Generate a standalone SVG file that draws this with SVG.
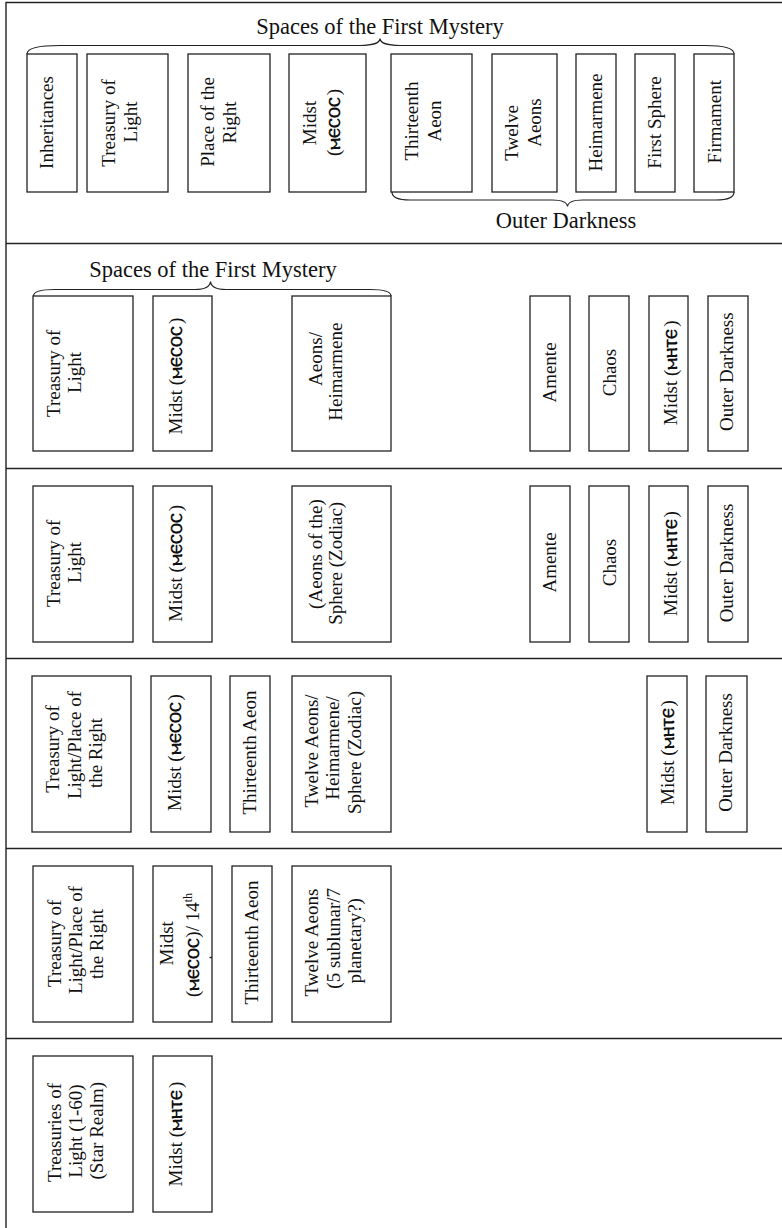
<svg xmlns="http://www.w3.org/2000/svg" width="782" height="1228" viewBox="0 0 782 1228">
  <style>
    .bg { fill: #ffffff; }
    .frame { stroke: #222; stroke-width: 1.4; fill: none; }
    .box { fill: #ffffff; stroke: #222; stroke-width: 1.3; }
    .brace { fill: none; stroke: #222; stroke-width: 1.2; }
    text { font-family: "Liberation Serif", "Times New Roman", serif; fill: #111; }
    .v { font-size: 19px; text-anchor: middle; }
    .h { font-size: 22.5px; text-anchor: middle; }
    .cop { font-family: "DejaVu Sans", "Noto Sans", sans-serif; font-weight: bold; font-size: 14.5px; }
    .sup { font-size: 12px; }
  </style>

  <rect class="bg" x="0" y="0" width="782" height="1228"/>

  <!-- table frame and row separators -->
  <g id="frame">
    <path class="frame" d="M6,1228 V2.5 H782 M6,243.5 H782 M6,468.5 H782 M6,658.5 H782 M6,848.5 H782 M6,1038.5 H782"/>
  </g>

  <!-- curly braces grouping the spaces -->
  <g id="connectors">
    <path class="brace" d="M27,54 C27,48 40,45.5 60,45.5 L360,45.5 C372,45.5 380,43 380,38.5 C380,43 388,45.5 400,45.5 L705,45.5 C724,45.5 734,48 734,54"/>
    <path class="brace" d="M392,192 C392,197 398,200 410,200 L552,200 C562,200 567,202.5 567.5,206.5 C568,202.5 573,200 583,200 L716,200 C728,200 734,197 734,192"/>
    <path class="brace" d="M33.5,296 C33.5,291.5 42,289.5 55,289.5 L195,289.5 C205,289.5 210,286.5 210.5,281.5 C211,286.5 216,289.5 226,289.5 L370,289.5 C383,289.5 391,291.5 391,296"/>
  </g>

  <g id="labels">
    <text class="h" x="380" y="34">Spaces of the First Mystery</text>
    <text class="h" x="566" y="228">Outer Darkness</text>
    <text class="h" x="213" y="277">Spaces of the First Mystery</text>
  </g>

  <!-- row 1 -->
  <g id="r1-inheritances">
    <rect class="box" x="27" y="54" width="50" height="138"/>
    <text class="v" transform="translate(53,122.5) rotate(-90)">Inheritances</text>
  </g>
  <g id="r1-treasury">
    <rect class="box" x="87" y="54" width="81" height="138"/>
    <text class="v" transform="translate(114.5,123) rotate(-90)">Treasury of</text>
    <text class="v" transform="translate(136.5,122) rotate(-90)">Light</text>
  </g>
  <g id="r1-place-right">
    <rect class="box" x="188" y="54" width="82" height="138"/>
    <text class="v" transform="translate(214,122) rotate(-90)">Place of the</text>
    <text class="v" transform="translate(235.5,122.5) rotate(-90)">Right</text>
  </g>
  <g id="r1-midst">
    <rect class="box" x="289" y="54" width="77" height="138"/>
    <text class="v" transform="translate(316,123) rotate(-90)">Midst</text>
    <text class="v" transform="translate(340,122.5) rotate(-90)">(<tspan class="cop">ⲘⲈⲤⲞⲤ</tspan><tspan dx="1.5">)</tspan></text>
  </g>
  <g id="r1-thirteenth">
    <rect class="box" x="391" y="54" width="81" height="138"/>
    <text class="v" transform="translate(417.5,121) rotate(-90)">Thirteenth</text>
    <text class="v" transform="translate(441,121) rotate(-90)">Aeon</text>
  </g>
  <g id="r1-twelve">
    <rect class="box" x="492" y="54" width="65" height="138"/>
    <text class="v" transform="translate(517.5,133) rotate(-90)">Twelve</text>
    <text class="v" transform="translate(541,122.5) rotate(-90)">Aeons</text>
  </g>
  <g id="r1-heimarmene">
    <rect class="box" x="576" y="54" width="40" height="138"/>
    <text class="v" transform="translate(601.5,122.5) rotate(-90)">Heimarmene</text>
  </g>
  <g id="r1-first-sphere">
    <rect class="box" x="635" y="54" width="40" height="138"/>
    <text class="v" transform="translate(661,122.5) rotate(-90)">First Sphere</text>
  </g>
  <g id="r1-firmament">
    <rect class="box" x="694" y="54" width="40" height="138"/>
    <text class="v" transform="translate(720.5,121.7) rotate(-90)">Firmament</text>
  </g>

  <!-- row 2 -->
  <g id="r2-treasury">
    <rect class="box" x="33" y="296" width="100" height="155"/>
    <text class="v" transform="translate(59.5,373.3) rotate(-90)">Treasury of</text>
    <text class="v" transform="translate(81,372.5) rotate(-90)">Light</text>
  </g>
  <g id="r2-midst">
    <rect class="box" x="153" y="296" width="59" height="155"/>
    <text class="v" transform="translate(181.5,376) rotate(-90)">Midst (<tspan class="cop">ⲘⲈⲤⲞⲤ</tspan><tspan dx="2">)</tspan></text>
  </g>
  <g id="r2-aeons">
    <rect class="box" x="292" y="296" width="99" height="155"/>
    <text class="v" transform="translate(321.7,359) rotate(-90)">Aeons/</text>
    <text class="v" transform="translate(341.7,371.7) rotate(-90)">Heimarmene</text>
  </g>
  <g id="r2-amente">
    <rect class="box" x="530" y="296" width="40" height="155"/>
    <text class="v" transform="translate(555.7,372.5) rotate(-90)">Amente</text>
  </g>
  <g id="r2-chaos">
    <rect class="box" x="589" y="296" width="40" height="155"/>
    <text class="v" transform="translate(616,372.5) rotate(-90)">Chaos</text>
  </g>
  <g id="r2-midst-mhte">
    <rect class="box" x="649" y="296" width="39" height="155"/>
    <text class="v" transform="translate(676.7,372.8) rotate(-90)">Midst (<tspan class="cop">ⲘⲎⲦⲈ</tspan><tspan dx="2">)</tspan></text>
  </g>
  <g id="r2-outer">
    <rect class="box" x="708" y="296" width="40" height="155"/>
    <text class="v" transform="translate(732.7,371.7) rotate(-90)">Outer Darkness</text>
  </g>

  <!-- row 3 -->
  <g id="r3-treasury">
    <rect class="box" x="33" y="486" width="100" height="156"/>
    <text class="v" transform="translate(59.5,563.3) rotate(-90)">Treasury of</text>
    <text class="v" transform="translate(81,562.5) rotate(-90)">Light</text>
  </g>
  <g id="r3-midst">
    <rect class="box" x="153" y="486" width="59" height="156"/>
    <text class="v" transform="translate(181.5,563.3) rotate(-90)">Midst (<tspan class="cop">ⲘⲈⲤⲞⲤ</tspan><tspan dx="2">)</tspan></text>
  </g>
  <g id="r3-sphere">
    <rect class="box" x="292" y="486" width="99" height="156"/>
    <text class="v" transform="translate(321.7,554) rotate(-90)">(Aeons of the)</text>
    <text class="v" transform="translate(341.5,563.3) rotate(-90)">Sphere (Zodiac)</text>
  </g>
  <g id="r3-amente">
    <rect class="box" x="530" y="486" width="40" height="156"/>
    <text class="v" transform="translate(555.7,562.5) rotate(-90)">Amente</text>
  </g>
  <g id="r3-chaos">
    <rect class="box" x="589" y="486" width="40" height="156"/>
    <text class="v" transform="translate(616,562.5) rotate(-90)">Chaos</text>
  </g>
  <g id="r3-midst-mhte">
    <rect class="box" x="649" y="486" width="39" height="156"/>
    <text class="v" transform="translate(676.7,563.5) rotate(-90)">Midst (<tspan class="cop">ⲘⲎⲦⲈ</tspan><tspan dx="2">)</tspan></text>
  </g>
  <g id="r3-outer">
    <rect class="box" x="708" y="486" width="40" height="156"/>
    <text class="v" transform="translate(732.7,563) rotate(-90)">Outer Darkness</text>
  </g>

  <!-- row 4 -->
  <g id="r4-treasury">
    <rect class="box" x="32" y="676" width="99" height="156"/>
    <text class="v" transform="translate(59.3,749) rotate(-90)">Treasury of</text>
    <text class="v" transform="translate(81,745) rotate(-90)">Light/Place of</text>
    <text class="v" transform="translate(101.7,753) rotate(-90)">the Right</text>
  </g>
  <g id="r4-midst">
    <rect class="box" x="151" y="676" width="60" height="156"/>
    <text class="v" transform="translate(180.7,752.5) rotate(-90)">Midst (<tspan class="cop">ⲘⲈⲤⲞⲤ</tspan><tspan dx="2">)</tspan></text>
  </g>
  <g id="r4-thirteenth">
    <rect class="box" x="230" y="676" width="40" height="156"/>
    <text class="v" transform="translate(256,752.5) rotate(-90)">Thirteenth Aeon</text>
  </g>
  <g id="r4-twelve">
    <rect class="box" x="292" y="676" width="99" height="156"/>
    <text class="v" transform="translate(317.7,751) rotate(-90)">Twelve Aeons/</text>
    <text class="v" transform="translate(339.3,748) rotate(-90)">Heimarmene/</text>
    <text class="v" transform="translate(361,752.5) rotate(-90)">Sphere (Zodiac)</text>
  </g>
  <g id="r4-midst-mhte">
    <rect class="box" x="647" y="676" width="40" height="156"/>
    <text class="v" transform="translate(674,752.5) rotate(-90)">Midst (<tspan class="cop">ⲘⲎⲦⲈ</tspan><tspan dx="2">)</tspan></text>
  </g>
  <g id="r4-outer">
    <rect class="box" x="706" y="676" width="41" height="156"/>
    <text class="v" transform="translate(731.7,752.5) rotate(-90)">Outer Darkness</text>
  </g>

  <!-- row 5 -->
  <g id="r5-treasury">
    <rect class="box" x="33" y="866" width="100" height="156"/>
    <text class="v" transform="translate(61,943.3) rotate(-90)">Treasury of</text>
    <text class="v" transform="translate(82,940) rotate(-90)">Light/Place of</text>
    <text class="v" transform="translate(103,944) rotate(-90)">the Right</text>
  </g>
  <g id="r5-midst">
    <rect class="box" x="153" y="866" width="59" height="156"/>
    <text class="v" transform="translate(172.7,943.3) rotate(-90)">Midst</text>
    <text class="v" transform="translate(199,945) rotate(-90)">(<tspan class="cop">ⲘⲈⲤⲞⲤ</tspan>)/ 14<tspan class="sup" dy="-7">th</tspan></text>
    <path class="frame" d="M209.5,957.5 H212" stroke-width="1"/>
  </g>
  <g id="r5-thirteenth">
    <rect class="box" x="232" y="866" width="40" height="156"/>
    <text class="v" transform="translate(257.7,942.5) rotate(-90)">Thirteenth Aeon</text>
  </g>
  <g id="r5-twelve">
    <rect class="box" x="292" y="866" width="99" height="156"/>
    <text class="v" transform="translate(318,942.5) rotate(-90)">Twelve Aeons</text>
    <text class="v" transform="translate(340,938.3) rotate(-90)">(5 sublunar/7</text>
    <text class="v" transform="translate(361,940.8) rotate(-90)">planetary?)</text>
  </g>

  <!-- row 6 -->
  <g id="r6-treasuries">
    <rect class="box" x="33" y="1056" width="100" height="156"/>
    <text class="v" transform="translate(61,1132.5) rotate(-90)">Treasuries of</text>
    <text class="v" transform="translate(82,1131) rotate(-90)">Light (1-60)</text>
    <text class="v" transform="translate(103,1130.7) rotate(-90)">(Star Realm)</text>
  </g>
  <g id="r6-midst-mhte">
    <rect class="box" x="153" y="1056" width="59" height="156"/>
    <text class="v" transform="translate(181.7,1134) rotate(-90)">Midst (<tspan class="cop">ⲘⲎⲦⲈ</tspan><tspan dx="2">)</tspan></text>
  </g>
</svg>
